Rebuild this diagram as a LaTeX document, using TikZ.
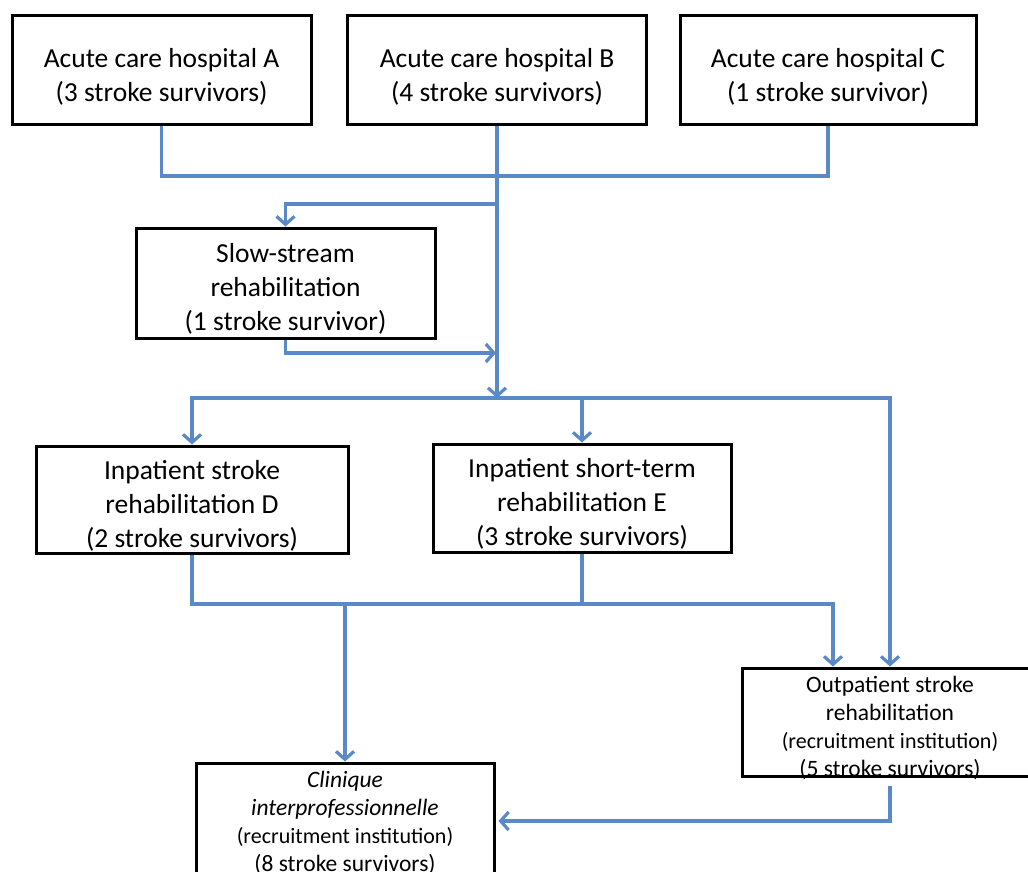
\documentclass[tikz,border=0pt]{standalone}
\usepackage{fontspec}
\setmainfont{Carlito}
\usetikzlibrary{arrows.meta,calc}
\definecolor{flowblue}{HTML}{5A8AC6}

\tikzset{
  box/.style={draw=black, line width=3pt, fill=white, inner sep=0pt},
  flow/.style={draw=flowblue, line width=3.2pt},
  arr/.style={flow, -{Straight Barb[length=8pt,width=18pt]}},
  bigtext/.style={font=\fontsize{27.5}{34}\selectfont, align=center},
  smalltext/.style={font=\fontsize{23.5}{28}\selectfont, align=center},
  wide/.style={minimum width=299pt, minimum height=109pt},
}
\newcommand{\recruit}{{\fontsize{22}{28}\selectfont (recruitment institution)}}

\begin{document}
\begin{tikzpicture}[x=1pt, y=-1pt]
  \useasboundingbox (0,0) rectangle (1028,871);
  \fill[white] (0,0) rectangle (1028,871);

  % acute care hospitals
  \node[box, wide] (A) at (161.5,69.5) {};
  \node[bigtext] (At) at ($(A)+(0,7)$) {Acute care hospital A\\(3 stroke survivors)};
  \node[box, wide] (B) at (497,69.5) {};
  \node[bigtext] (Bt) at ($(B)+(0,7)$) {Acute care hospital B\\(4 stroke survivors)};
  \node[box, wide, minimum width=296pt] (C) at (828,69.5) {};
  \node[bigtext] (Ct) at ($(C)+(0,7)$) {Acute care hospital C\\(1 stroke survivor)};

  % slow-stream rehabilitation
  \node[box, wide, minimum height=110pt] (S) at (285.5,283) {};
  \node[bigtext] (St) at ($(S)+(0,6)$) {Slow-stream\\rehabilitation\\(1 stroke survivor)};

  % inpatient rehabilitation
  \node[box, minimum width=312pt, minimum height=107pt] (D) at (192,499.5) {};
  \node[bigtext] (Dt) at ($(D)+(0,6)$) {Inpatient stroke\\rehabilitation D\\(2 stroke survivors)};
  \node[box, minimum width=298pt, minimum height=108pt] (E) at (582,498) {};
  \node[bigtext] (Et) at ($(E)+(0,6)$) {Inpatient short-term\\rehabilitation E\\(3 stroke survivors)};

  % outpatient rehabilitation
  \node[box, minimum width=296pt, minimum height=108pt] (O) at (890,722) {};
  \node[smalltext] (Ot) at (890,728) {Outpatient stroke\\rehabilitation\\\recruit\\(5 stroke survivors)};

  % clinique interprofessionnelle
  \node[box, minimum width=298pt, minimum height=110pt] (K) at (345,818) {};
  \node[smalltext] (Kt) at (345,823) {\textit{Clinique}\\\textit{interprofessionnelle}\\\recruit\\(8 stroke survivors)};

  % junction points
  \coordinate (jtop) at (497,176);
  \coordinate (jslow) at (497,204);
  \coordinate (jback) at (496,353);
  \coordinate (jmid) at (497,398);
  \coordinate (jlow) at (345,604);
  \coordinate (oleft) at ($(O.north)+(-57,0)$);
  \coordinate (kin) at ($(K.east)+(3,3)$);

  % connectors
  \draw[flow] (A.south) |- (jtop) -| (C.south);
  \draw[arr] (B.south) -- (jmid);
  \draw[arr] (jslow) -| (S.north);
  \draw[arr] (S.south) |- (jback);
  \draw[arr] (jmid) -| (D.north);
  \draw[arr] (jmid) -| (O.north);
  \draw[arr] (E.north |- jmid) -- (E.north);
  \draw[arr] (D.south) |- (jlow) -| (oleft);
  \draw[flow] (E.south) -- (E.south |- jlow);
  \draw[arr] (jlow) -- (K.north);
  \draw[arr, shorten <=8pt] (O.south) |- (kin);
\end{tikzpicture}
\end{document}
